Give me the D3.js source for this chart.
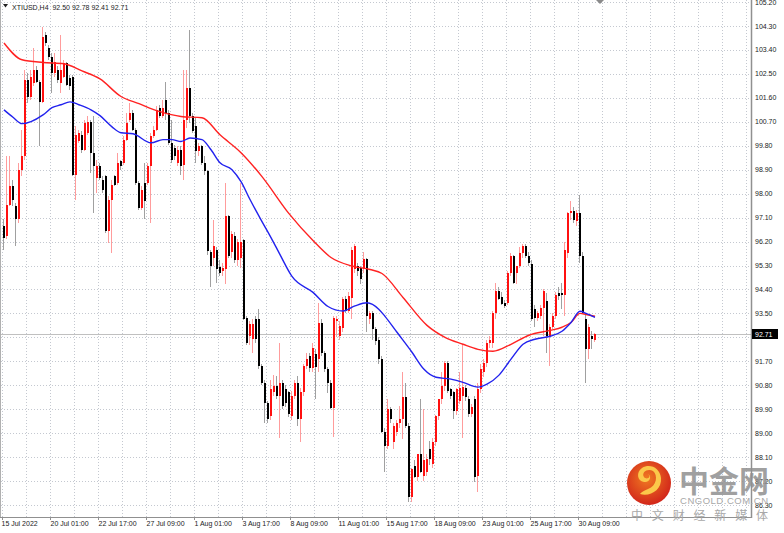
<!DOCTYPE html>
<html><head><meta charset="utf-8">
<script src="https://cdn.jsdelivr.net/npm/d3@7"></script>
<style>html,body{margin:0;padding:0;background:#fff;}svg{display:block;}</style>
</head><body><div id="chart"></div>
<script>
const symbolTitle = "XTIUSD,H4  92.50 92.78 92.41 92.71";
const opens = [96.78,96.4,97.59,98.28,97.53,97.03,98.9,99.4,102.28,101.65,102.15,102.65,102.21,101.46,103.96,103.46,103.15,102.53,102.65,102.15,102.4,102.9,102.34,102.4,98.71,99.96,100.21,99.65,100.28,100.71,99.53,98.59,99.03,98.53,98.65,96.59,97.78,98.65,98.4,99.21,99.15,100.03,100.78,101.03,100.4,98.4,97.46,98.4,98.4,99.03,100.15,100.4,101.21,100.9,101.53,101.03,99.9,99.71,99.15,99.65,99.09,100.78,101.96,100.9,100.53,99.59,99.78,99.15,98.84,95.8,95.59,95.9,95.25,95.1,95.15,97.15,95.8,96.4,95.5,95.6,96.25,93.34,92.65,92.53,93.28,93.28,91.53,90.9,90.15,89.65,90.53,90.78,90.4,90.9,90.65,90.53,89.65,90.4,90.9,89.53,90.53,91.53,91.9,91.46,91.96,91.78,93.15,92.03,91.4,90.9,89.96,93.2,92.65,92.96,94.03,93.6,94.09,95.15,95.28,95.21,95.15,95.53,93.28,93.53,92.9,92.5,91.78,89.03,88.53,89.9,88.65,89.03,89.4,89.53,90.34,89.28,86.6,87.78,87.34,88.2,87.4,87.53,88.4,87.85,88.65,89.65,90.28,90.78,91.65,90.65,90.53,89.84,90.2,90.4,90.7,90.3,89.71,90.28,87.4,90.65,91.3,91.65,92.4,92.4,93.53,94.34,94.1,93.9,93.9,95.03,95.65,95.0,95.28,95.78,96.03,95.65,95.34,93.65,93.34,93.4,93.71,93.96,92.65,93.0,93.4,94.28,94.28,94.2,95.78,97.28,97.34,96.96,97.28,95.65,93.28,92.15,92.65,92.50];
const highs = [97.03,99.4,99.4,98.53,97.65,99.15,100.4,102.65,102.53,102.65,103.46,102.78,102.28,104.28,104.09,103.59,103.28,103.28,102.78,103.96,103.03,102.96,102.46,102.46,100.53,100.4,100.34,100.78,100.9,100.78,100.9,99.28,99.15,98.65,98.71,97.9,98.53,98.71,99.53,99.28,100.15,101.03,101.4,101.15,100.46,98.46,98.28,99.15,99.15,100.28,100.53,101.28,101.34,101.53,102.21,101.15,100.78,99.84,99.78,99.78,102.65,102.65,104.15,101.03,100.84,99.9,99.84,99.4,98.9,95.9,97.0,96.0,95.5,95.4,98.4,97.2,96.6,96.55,96.3,98.4,96.3,93.4,93.2,93.3,93.4,93.65,91.6,91.0,90.2,91.0,91.2,91.15,92.4,91.0,90.8,90.6,90.6,91.0,91.15,90.7,91.6,92.0,92.0,92.4,92.15,93.9,93.3,92.1,91.5,91.0,93.4,93.4,93.2,94.1,94.15,94.3,96.0,96.1,95.4,95.3,95.8,95.6,93.6,93.6,93.0,92.6,91.9,89.2,90.28,90.0,89.4,89.5,90.03,91.28,90.9,89.4,87.7,88.0,88.2,90.28,89.9,88.2,88.7,88.8,89.7,90.3,91.28,91.7,91.7,90.7,90.6,90.7,91.28,92.34,90.8,90.4,90.1,90.4,90.9,91.6,91.8,92.5,92.65,93.6,94.65,94.5,94.3,94.0,95.1,95.78,95.7,95.3,96.0,96.1,96.1,95.8,95.5,93.8,93.6,93.8,94.4,94.28,93.1,93.5,94.3,94.5,94.65,96.2,97.3,97.71,97.5,97.4,97.96,95.8,93.5,93.1,92.84,92.78];
const lows = [95.9,96.28,97.53,97.53,96.03,96.9,98.65,99.28,101.4,101.53,102.03,102.15,99.78,101.4,103.53,103.03,101.78,102.4,102.15,101.78,102.34,102.03,101.9,98.65,97.78,99.9,99.53,99.59,100.21,98.78,97.28,98.03,98.53,98.03,96.53,96.15,95.78,98.28,98.34,98.9,99.09,99.96,100.71,100.34,98.34,97.4,97.4,97.03,98.34,96.9,100.09,100.34,100.84,100.84,100.78,99.84,99.15,99.28,99.03,98.71,98.53,100.46,100.65,100.28,99.15,99.4,99.09,98.71,95.7,94.5,95.3,94.65,94.9,94.9,94.6,95.6,95.6,95.4,95.3,95.2,93.25,92.3,92.3,92.03,92.4,91.4,90.8,89.4,89.4,89.5,90.4,90.3,88.8,89.9,90.0,89.6,89.5,90.3,89.28,88.65,90.4,91.4,91.3,91.3,90.28,91.28,91.9,91.3,90.5,89.9,88.85,92.6,92.5,92.8,93.5,93.5,93.28,95.0,94.9,94.6,95.0,92.8,93.1,92.5,92.3,91.6,89.0,87.53,88.4,89.4,88.4,88.9,89.2,88.78,89.2,86.4,86.4,87.3,87.2,87.5,87.2,87.4,87.8,87.7,88.5,89.5,90.1,90.6,90.5,90.3,89.53,89.7,90.1,88.8,90.2,89.6,89.6,87.15,86.78,90.5,91.1,91.5,92.2,92.2,93.3,94.0,93.8,93.7,93.8,94.9,94.6,94.6,95.2,95.6,95.6,95.3,93.2,93.0,93.2,93.3,92.65,92.03,91.53,92.9,93.3,94.0,93.65,93.4,95.6,97.0,96.9,96.8,95.4,93.5,90.9,91.78,92.15,92.41];
const closes = [96.34,97.59,98.28,97.78,97.03,98.9,99.4,102.28,101.65,102.4,102.65,102.21,101.46,103.9,103.65,103.15,102.53,102.96,102.28,102.65,102.9,102.09,102.03,98.71,100.21,100.28,99.65,100.65,100.71,99.53,99.03,99.03,98.59,98.15,96.59,97.78,98.34,98.34,99.15,99.03,100.03,100.65,101.03,100.4,98.4,97.46,98.15,97.71,99.03,100.15,100.4,101.15,100.9,101.21,101.03,99.9,99.28,99.4,99.65,99.03,100.78,101.96,100.9,100.34,99.59,99.78,99.15,98.84,95.85,95.3,96.02,95.15,95.0,95.2,97.15,95.65,96.5,95.5,96.2,96.2,93.3,92.4,93.09,93.09,92.53,91.53,90.9,90.15,89.53,90.65,90.78,90.4,90.9,90.03,90.15,89.71,90.4,90.9,89.53,90.53,91.53,91.78,91.46,92.2,91.5,93.15,92.03,91.4,90.9,89.96,93.34,93.28,93.03,94.03,93.59,94.15,95.9,96.03,95.09,94.78,95.53,93.4,93.53,92.9,92.45,91.78,89.03,88.53,89.9,89.53,89.28,89.4,89.53,90.34,89.28,86.6,87.65,87.34,88.2,87.53,88.0,88.03,88.03,88.65,89.65,90.28,90.78,91.65,90.6,90.4,89.84,90.65,90.7,90.75,90.34,89.71,90.0,87.35,90.65,91.4,91.65,92.4,92.5,93.53,94.34,94.03,93.84,93.78,95.03,95.65,94.65,95.28,95.78,96.03,95.65,95.4,93.3,93.34,93.53,93.7,94.34,92.65,93.0,93.4,94.21,94.15,94.21,95.9,97.28,97.34,97.0,97.28,95.65,93.53,92.15,93.0,92.53,92.71];

const maRedBars   = [0,6,13,20,26,32,39,45,52,59,66,72,79,86,95,103,109,116,122,126,133,141,147,153,158,163,169,175,182,186,189,192,194,197];
const maRedValues = [103.66,103.03,102.93,102.88,102.61,102.31,101.65,101.38,101.08,100.9,100.85,100.21,99.54,98.64,97.25,96.24,95.6,95.28,95.15,95.0,94.1,93.05,92.6,92.34,92.15,92.08,92.34,92.68,92.86,92.98,93.16,93.5,93.46,93.39];
const maBlueBars   = [0,3,6,9,13,16,19,22,25,29,32,36,39,43,49,53,56,59,62,66,69,72,76,79,82,86,89,92,96,103,108,113,117,121,125,127,131,136,140,144,149,153,158,161,165,169,173,177,182,186,189,192,194,197];
const maBlueValues = [101.15,100.87,100.63,100.71,100.96,101.23,101.34,101.45,101.34,101.15,100.93,100.51,100.29,100.25,99.91,100.03,100.03,99.96,100.09,100.03,99.65,99.16,98.9,98.45,97.78,96.95,96.35,95.71,94.89,94.29,93.76,93.59,93.78,93.9,93.65,93.39,92.79,92.04,91.4,91.1,91.03,90.91,90.73,90.84,91.18,91.78,92.34,92.53,92.64,92.83,93.16,93.58,93.5,93.35];

const priceTicks = [105.20,104.30,103.40,102.50,101.60,100.70,99.80,98.90,98.00,97.10,96.20,95.30,94.40,93.50,92.60,91.70,90.80,89.90,89.00,88.10,87.20,86.30];
const timeLabels = ["15 Jul 2022","20 Jul 01:00","22 Jul 17:00","27 Jul 09:00","1 Aug 01:00","3 Aug 17:00","8 Aug 09:00","11 Aug 01:00","15 Aug 17:00","18 Aug 09:00","23 Aug 01:00","25 Aug 17:00","30 Aug 09:00"];
const timeLabelBars = [0,16,32,48,64,80,96,112,128,144,160,176,192];
const currentPrice = 92.71;

const W = 784, H = 533, plotR = 751, plotB = 517;
const FONT = "'Liberation Sans', Arial, sans-serif";
const svg = d3.select("#chart").append("svg").attr("width", W).attr("height", H);

const x = d3.scaleLinear().domain([0, 1]).range([3, 6]); // bar index -> left pixel
const y = d3.scaleLinear().domain([86.3, 104.3]).range([505, 26]);

// grid
const grid = svg.append("g").attr("shape-rendering", "crispEdges");
priceTicks.forEach(p => {
  const yy = Math.round(y(p)) + 0.5;
  grid.append("line").attr("x1", 1).attr("x2", plotR).attr("y1", yy).attr("y2", yy)
    .attr("stroke", "#c4c8d0").attr("stroke-dasharray", "1,2");
});
d3.range(0, 250, 8).forEach(b => {
  const xx = Math.round(x(b)) - 0.5;
  if (xx > plotR - 1) return;
  grid.append("line").attr("x1", xx).attr("x2", xx).attr("y1", 0).attr("y2", plotB)
    .attr("stroke", "#c4c8d0").attr("stroke-dasharray", "1,2");
});

// current price line
svg.append("line").attr("x1", 1).attr("x2", plotR).attr("y1", Math.round(y(currentPrice)) + 0.5).attr("y2", Math.round(y(currentPrice)) + 0.5)
  .attr("stroke", "#c0c0c0").attr("shape-rendering", "crispEdges");

// candles
const bars = opens.map((o, i) => ({i, o, h: highs[i], l: lows[i], c: closes[i]}));
const cg = svg.append("g").attr("shape-rendering", "crispEdges");
bars.forEach(d => {
  const up = d.c >= d.o;
  const lx = Math.round(x(d.i));
  cg.append("rect").attr("x", lx).attr("width", 1)
    .attr("y", Math.round(y(d.h))).attr("height", Math.max(1, Math.round(y(d.l)) - Math.round(y(d.h))))
    .attr("fill", up ? "#ff9c9c" : "#a0a0a0");
  const top = Math.round(y(Math.max(d.o, d.c))), bot = Math.round(y(Math.min(d.o, d.c)));
  cg.append("rect").attr("x", lx).attr("width", 2)
    .attr("y", top).attr("height", Math.max(1, bot - top))
    .attr("fill", up ? "#ff1010" : "#000000");
});

// moving averages
const line = d3.line().x(d => x(d[0]) + 1).y(d => y(d[1])).curve(d3.curveMonotoneX);
svg.append("path").datum(maRedBars.map((b, k) => [b, maRedValues[k]]))
  .attr("d", line).attr("fill", "none").attr("stroke", "#ff2222").attr("stroke-width", 1.4);
svg.append("path").datum(maBlueBars.map((b, k) => [b, maBlueValues[k]]))
  .attr("d", line).attr("fill", "none").attr("stroke", "#2222ee").attr("stroke-width", 1.4);

// frame
svg.append("line").attr("x1", 0.5).attr("x2", 0.5).attr("y1", 0).attr("y2", plotB).attr("stroke", "#b0b0b0");
svg.append("line").attr("x1", plotR + 0.5).attr("x2", plotR + 0.5).attr("y1", 0).attr("y2", plotB + 1).attr("stroke", "#909090").attr("stroke-width", 1.5);
svg.append("line").attr("x1", 0).attr("x2", plotR + 1).attr("y1", plotB + 0.5).attr("y2", plotB + 0.5).attr("stroke", "#909090");

// chart shift marker
svg.append("path").attr("d", "M596,0 L604,0 L600,4 Z").attr("fill", "#8a8a8a");

// price labels (the one under the current-price box is hidden, as in the terminal)
const cy = y(currentPrice);
priceTicks.forEach(p => {
  if (Math.abs(y(p) - cy) < 9) return;
  svg.append("text").attr("x", 755).attr("y", y(p) + 2.5).text(p.toFixed(2))
    .attr("font-family", FONT).attr("font-size", 7).attr("fill", "#222");
});
// current price box
svg.append("rect").attr("x", 752).attr("y", Math.round(cy) - 5).attr("width", 26).attr("height", 10).attr("fill", "#000");
svg.append("text").attr("x", 755).attr("y", cy + 2.5).text(currentPrice.toFixed(2))
  .attr("font-family", FONT).attr("font-size", 7).attr("fill", "#fff");

// time labels
timeLabels.forEach((t, k) => {
  const xx = Math.round(x(timeLabelBars[k])) - 0.5;
  svg.append("line").attr("x1", xx).attr("x2", xx).attr("y1", plotB).attr("y2", plotB + 3).attr("stroke", "#909090");
  svg.append("text").attr("x", xx + (k === 0 ? -1 : 0)).attr("y", 526).text(t)
    .attr("font-family", FONT).attr("font-size", 7).attr("fill", "#222");
});

// title
svg.append("path").attr("d", "M3,4 L8,4 L5.5,7.5 Z").attr("fill", "#222");
svg.append("text").attr("x", 12).attr("y", 9.5).text(symbolTitle).attr("xml:space", "preserve")
  .attr("font-family", FONT).attr("font-size", 7).attr("fill", "#222").style("white-space", "pre");

// watermark
const defs = svg.append("defs");
const rg = defs.append("radialGradient").attr("id", "lg").attr("cx", "45%").attr("cy", "40%").attr("r", "60%");
rg.append("stop").attr("offset", "0%").attr("stop-color", "#f07a22");
rg.append("stop").attr("offset", "100%").attr("stop-color", "#d2261a");
const wm = svg.append("g");
wm.append("circle").attr("cx", 649).attr("cy", 483).attr("r", 22).attr("fill", "url(#lg)");
wm.append("path").attr("d", "M640,494 C650,497 662,490 661,478 C660,468 650,463 642,468 C636,472 637,481 644,482 C650,483 652,476 648,474 C652,478 646,480 644,477 C641,472 648,468 653,471 C658,475 657,486 648,489 C644,491 641,492 640,494 Z")
  .attr("fill", "#fbc84a");
wm.append("text").attr("x", 679).attr("y", 492).text("中金网")
  .attr("font-family", "'Noto Sans CJK SC', sans-serif").attr("font-weight", "bold").attr("font-size", 30)
  .attr("fill", "#8f8f8f").attr("fill-opacity", 0.85);
wm.append("text").attr("x", 680).attr("y", 504).text("CNGOLD.COM.CN")
  .attr("font-family", FONT).attr("font-size", 9.5).attr("fill", "#a8a8a8").attr("textLength", 88);
wm.append("text").attr("x", 631).attr("y", 520).text("中文财经新媒体")
  .attr("font-family", "'Noto Sans CJK SC', sans-serif").attr("font-size", 12).attr("fill", "#a8a8a8")
  .attr("textLength", 137).attr("lengthAdjust", "spacing");
</script></body></html>
